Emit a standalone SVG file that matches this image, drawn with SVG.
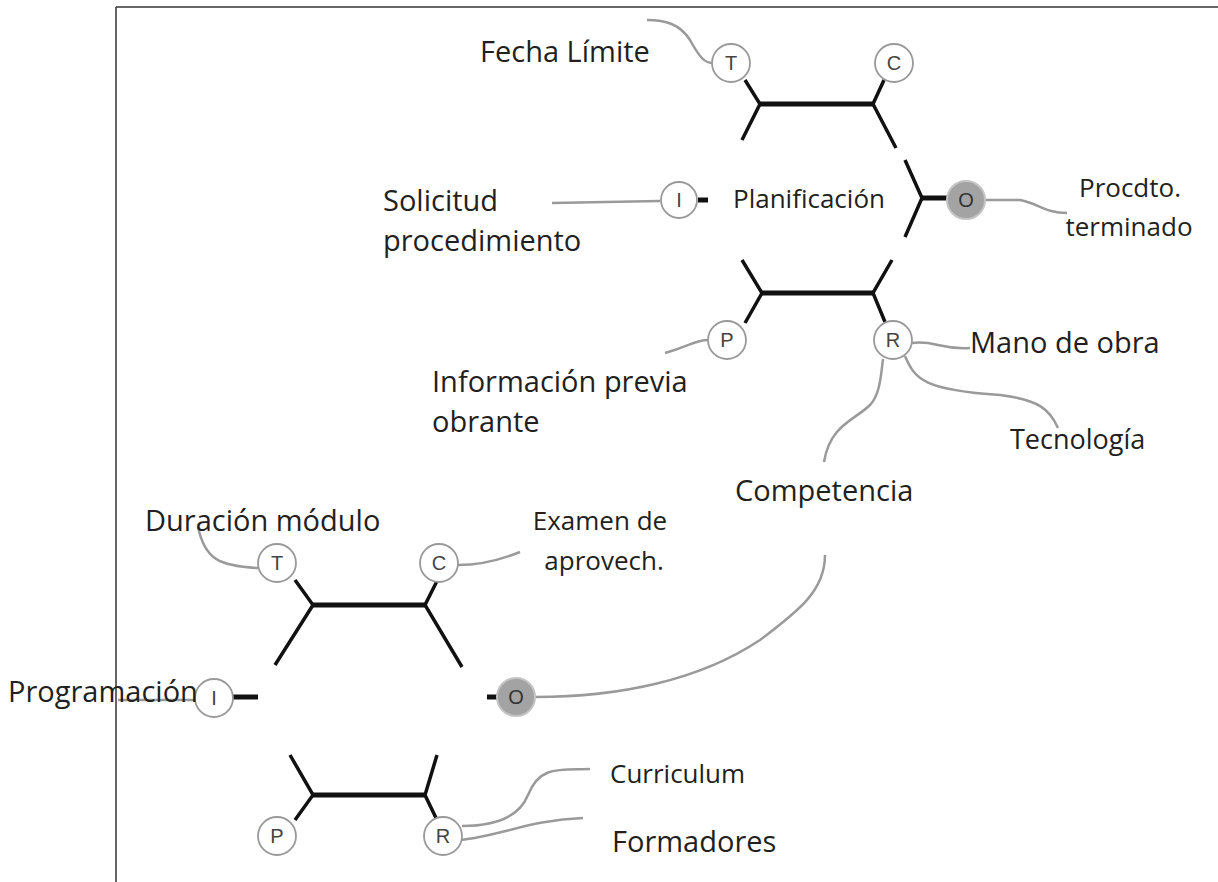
<svg xmlns="http://www.w3.org/2000/svg" width="1218" height="882" viewBox="0 0 1218 882">
<style>
.frame{stroke:#333;stroke-width:1.5;fill:none}
.bar{stroke:#111;stroke-width:5;fill:none;stroke-linecap:butt}
.leg{stroke:#111;stroke-width:3.5;fill:none;stroke-linecap:butt}
.con{stroke:#9a9a9a;stroke-width:2.5;fill:none}
.pt{fill:#fff;stroke:#999;stroke-width:1.8}
.ptO{fill:#a3a3a3;stroke:#c4c4c4;stroke-width:2}
.pl{font-family:"Liberation Sans",Arial,sans-serif;font-size:20px;fill:#444;text-anchor:middle}
.lbl{font-family:"Open Sans","Liberation Sans",sans-serif;font-size:29px;fill:#231f20}
.sm{font-family:"Open Sans","Liberation Sans",sans-serif;font-size:26px;fill:#231f20}
</style>
<rect x="0" y="0" width="1218" height="882" fill="#fff"/>
<g id="frame">
<line class="frame" x1="116" y1="7" x2="1218" y2="7"/>
<line class="frame" x1="116" y1="7" x2="116" y2="882"/>
</g>

<g id="connectors">
<!-- upper process skeleton -->
<path class="bar" d="M760,104 H873"/>
<path class="leg" d="M745,80 L760,104 L742,140"/>
<path class="leg" d="M884,80 L873,104 L896,148"/>
<path class="leg" d="M905,160 L922,198 L905,237"/>
<path class="bar" d="M922,198 H947"/>
<path class="bar" d="M698,200 H708"/>
<path class="bar" d="M762,293 H873"/>
<path class="leg" d="M742,260 L762,293 L745,323"/>
<path class="leg" d="M892,260 L873,293 L885,322"/>
<!-- upper connectors -->
<path class="con" d="M647,20 C665,20 680,24 690,40 C700,58 705,63 712,63"/>
<path class="con" d="M552,203 L660,201"/>
<path class="con" d="M985,200 L1020,200 C1040,204 1045,213 1067,213"/>
<path class="con" d="M665,353 C690,346 695,340 708,340"/>
<path class="con" d="M912,343 C935,340 940,350 970,348"/>
<path class="con" d="M905,356 C915,380 925,390 1000,395 C1040,400 1050,410 1058,428"/>
<path class="con" d="M883,359 C881,375 880,395 870,405 C855,420 830,425 824,462"/>
<!-- lower process skeleton -->
<path class="bar" d="M313,605 H425"/>
<path class="leg" d="M295,580 L313,605 L275,665"/>
<path class="leg" d="M437,581 L425,605 L462,667"/>
<path class="bar" d="M233,697 H258"/>
<path class="bar" d="M487,697 H497"/>
<path class="bar" d="M313,795 H425"/>
<path class="leg" d="M290,755 L313,795 L295,820"/>
<path class="leg" d="M437,755 L425,795 L437,820"/>
<!-- lower connectors -->
<path class="con" d="M258,568 C220,566 205,560 198,527"/>
<path class="con" d="M458,565 C480,565 500,560 520,552"/>
<path class="con" d="M118,700 L195,700"/>
<path class="con" d="M535,697 C620,697 700,680 760,640 C800,610 825,590 825,555"/>
<path class="con" d="M462,826 C500,826 520,815 528,795 C540,765 560,770 590,769"/>
<path class="con" d="M460,840 C500,836 530,820 583,818"/>
</g>

<g id="node-upper-T"><circle class="pt" cx="731" cy="63" r="19"/><text class="pl" x="731" y="70">T</text></g>
<g id="node-upper-C"><circle class="pt" cx="894" cy="63" r="19"/><text class="pl" x="894" y="70">C</text></g>
<g id="node-upper-I"><circle class="pt" cx="679" cy="200" r="18"/><text class="pl" x="679" y="207">I</text></g>
<g id="node-upper-O"><circle class="ptO" cx="966" cy="200" r="19"/><text class="pl" x="966" y="207" style="fill:#333">O</text></g>
<g id="node-upper-P"><circle class="pt" cx="727" cy="340" r="19"/><text class="pl" x="727" y="347">P</text></g>
<g id="node-upper-R"><circle class="pt" cx="893" cy="340" r="19"/><text class="pl" x="893" y="347">R</text></g>

<g id="node-lower-T"><circle class="pt" cx="277" cy="563" r="19"/><text class="pl" x="277" y="570">T</text></g>
<g id="node-lower-C"><circle class="pt" cx="439" cy="563" r="19"/><text class="pl" x="439" y="570">C</text></g>
<g id="node-lower-I"><circle class="pt" cx="214" cy="698" r="19"/><text class="pl" x="214" y="705">I</text></g>
<g id="node-lower-O"><circle class="ptO" cx="516" cy="697" r="19"/><text class="pl" x="516" y="704" style="fill:#333">O</text></g>
<g id="node-lower-P"><circle class="pt" cx="277" cy="836" r="19"/><text class="pl" x="277" y="843">P</text></g>
<g id="node-lower-R"><circle class="pt" cx="443" cy="836" r="19"/><text class="pl" x="443" y="843">R</text></g>

<g id="labels">
<text class="lbl" x="480" y="62">Fecha Límite</text>
<text class="lbl" x="383" y="211">Solicitud</text>
<text class="lbl" x="383" y="251">procedimiento</text>
<text class="sm" x="733" y="208">Planificación</text>
<text class="sm" x="1130" y="197" text-anchor="middle">Procdto.</text>
<text class="sm" x="1129" y="236" text-anchor="middle">terminado</text>
<text class="lbl" x="432" y="392">Información previa</text>
<text class="lbl" x="432" y="432">obrante</text>
<text class="lbl" x="970" y="353">Mano de obra</text>
<text class="lbl" x="1010" y="449" style="font-size:27px">Tecnología</text>
<text class="lbl" x="735" y="501">Competencia</text>
<text class="lbl" x="145" y="531">Duración módulo</text>
<text class="sm" x="600" y="530" text-anchor="middle">Examen de</text>
<text class="sm" x="604" y="570" text-anchor="middle">aprovech.</text>
<text class="lbl" x="8" y="702">Programación</text>
<text class="sm" x="610" y="783">Curriculum</text>
<text class="lbl" x="612" y="852">Formadores</text>
</g>
</svg>
